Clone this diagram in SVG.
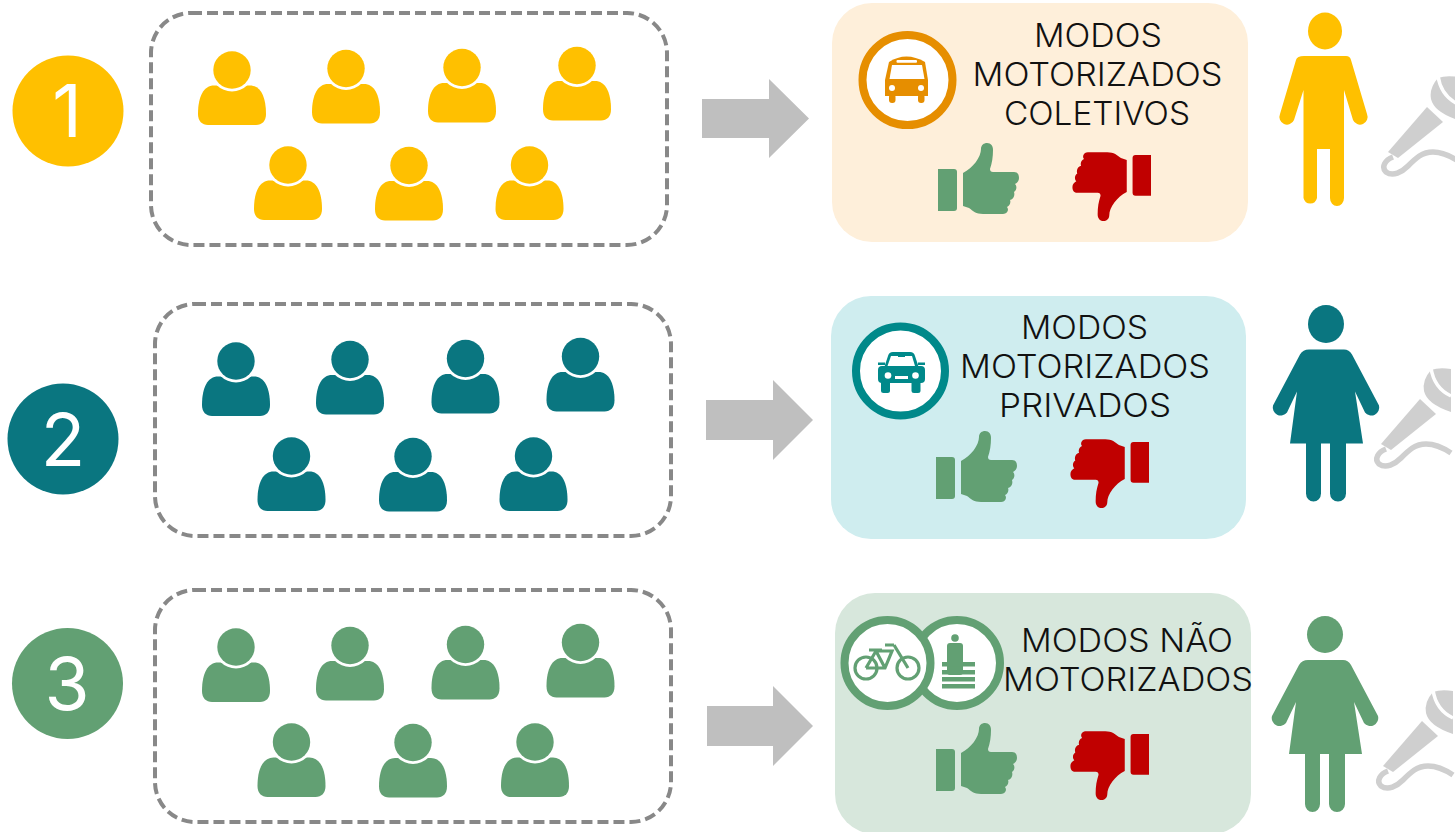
<svg xmlns="http://www.w3.org/2000/svg" width="1455" height="832" viewBox="0 0 1455 832">
<style>
.box{fill:#fff;stroke:#888;stroke-width:4;stroke-dasharray:11 5}
.arrow{fill:#BFBFBF}
.lbl{font-family:"Inter","Liberation Sans",sans-serif;font-weight:300;font-size:32px;fill:#111}
.num{font-family:"Inter","Liberation Sans",sans-serif;font-weight:400;font-size:73px;fill:#fff;text-anchor:middle}
.yel{fill:#FFC000}.teal{fill:#0A7680}.grn{fill:#62A073}.red{fill:#C00000}
.mic{fill:#CFCFCF}
</style>
<defs>
<g id="p"><path d="M-18 15.500C-28 15.500-34 26-34 44C-34 51-30 55-24 55L24 55C30 55 34 51 34 44C34 26 28 15.500 18 15.500Z"/><circle r="21.500" fill="#fff"/><circle r="18.700"/></g>
<g id="up"><path d="M0 26H16Q19 26 19 29V65Q19 68 16 68H0Z"/><path d="M25 30C35 25 43 14 43 6C43 2 46 0 49 0C53 0 55 3 55 7C55 14 54 20 52 26C52 28 53 29 55 29L76 29C80 29 81 32 81 35C81 38 79 40 77 41C79 43 79 47 76 49C77 52 76 56 72 57C73 59 72 63 69 64C71 66 70 71 65 71L45 71C38 71 35 68 31 65L25 63Z"/></g>
<g id="mic"><path class="mic" d="M1427 107L1443 122L1398 158L1388 152Z"/><path class="mic" d="M1438 78Q1429 88 1431 99Q1434 112 1458 120L1458 77Q1446 75 1438 78Z"/><path d="M1438 76Q1441 96 1458 104" fill="none" stroke="#fff" stroke-width="3.500"/><path d="M1393 157C1385 160 1381 167 1386 172C1393 177 1402 172 1408 166C1416 158 1422 152 1433 152C1442 152 1449 155 1458 161" fill="none" stroke="#CFCFCF" stroke-width="5.500"/></g>
<path id="woman" d="M1308 660L1343 660Q1348 660 1351 665L1378 716A8 8 0 0 1 1364 723L1354 702L1362 754L1345 754L1345 804A8 8 0 0 1 1329 804L1329 754L1320 754L1320 804A7.500 8 0 0 1 1305 804L1305 754L1289 754L1296 702L1286 723A8 8 0 0 1 1272 716L1299 665Q1302 660 1308 660Z"/>
</defs>

<g id="connectors">
<polygon class="arrow" points="702,99 769,99 769,79 809,118.500 769,158 769,138 702,138"/>
<polygon class="arrow" points="706,400 773,400 773,380 813,420 773,460 773,440 706,440"/>
<polygon class="arrow" points="707,706 773,706 773,686 813,726 773,766 773,746 707,746"/>
</g>

<g id="num1"><circle class="yel" cx="68" cy="111" r="55.500"/><text class="num" x="67" y="137">1</text></g>
<g id="num2"><circle class="teal" cx="63" cy="439" r="55.500"/><text class="num" x="63" y="466">2</text></g>
<g id="num3"><circle class="grn" cx="67.500" cy="683.500" r="55.500"/><text class="num" x="67" y="710">3</text></g>

<g id="group1">
<rect class="box" x="151" y="13" width="516" height="232" rx="40"/>
<g class="yel"><use href="#p" x="232" y="70"/><use href="#p" x="346" y="68.500"/><use href="#p" x="462" y="67.500"/><use href="#p" x="577" y="65.500"/><use href="#p" x="288" y="165"/><use href="#p" x="409" y="165.500"/><use href="#p" x="529.500" y="165"/></g>
</g>
<g id="group2">
<rect class="box" x="155" y="304" width="516" height="232" rx="40"/>
<g class="teal"><use href="#p" x="236" y="361"/><use href="#p" x="350" y="359.500"/><use href="#p" x="465.500" y="358.500"/><use href="#p" x="580.500" y="356.500"/><use href="#p" x="291.500" y="456"/><use href="#p" x="413" y="456.500"/><use href="#p" x="533.500" y="456"/></g>
</g>
<g id="group3">
<rect class="box" x="155" y="590" width="516" height="232" rx="40"/>
<g class="grn"><use href="#p" x="236" y="647"/><use href="#p" x="350" y="645.500"/><use href="#p" x="465.500" y="644.500"/><use href="#p" x="580.500" y="642.500"/><use href="#p" x="291.500" y="742"/><use href="#p" x="413" y="742.500"/><use href="#p" x="535" y="742"/></g>
</g>

<g id="panel1">
<rect x="832" y="3" width="416" height="239" rx="40" fill="#FEEFDA"/>
<circle cx="907.500" cy="80" r="45" fill="#fff" stroke="#E68E00" stroke-width="8"/>
<g fill="#E68E00"><path d="M889 62Q906 51 925 62L928 80V96H885V80Z"/><rect x="889" y="94" width="6.500" height="9" rx="3"/><rect x="918" y="94" width="6.500" height="9" rx="3"/></g>
<g fill="#fff"><path d="M892 65H922L924.500 79H889.500Z"/><rect x="896.500" y="60" width="20.500" height="2.800" rx="1"/><circle cx="892" cy="88" r="3"/><circle cx="921" cy="88" r="3"/></g>
<text class="lbl" x="1034" y="47" textLength="128" lengthAdjust="spacingAndGlyphs">MODOS</text>
<text class="lbl" x="972.500" y="86" textLength="250" lengthAdjust="spacingAndGlyphs">MOTORIZADOS</text>
<text class="lbl" x="1004" y="125" textLength="186" lengthAdjust="spacingAndGlyphs">COLETIVOS</text>
<use href="#up" class="grn" x="938" y="143"/>
<use href="#up" class="red" transform="translate(1151 221) rotate(180) scale(.97)"/>
</g>

<g id="panel2">
<rect x="831" y="296" width="415" height="243" rx="40" fill="#CFEDEF"/>
<circle cx="900.500" cy="371" r="44.500" fill="#fff" stroke="#00898A" stroke-width="8"/>
<g fill="#00898A"><path d="M884 368L888 356Q889 352 893 352H910Q914 352 915 356L919 368Z"/><rect x="878" y="362.500" width="7" height="2.500"/><rect x="918" y="362.500" width="7" height="2.500"/><rect x="878" y="366" width="47" height="17" rx="4"/><rect x="881" y="378" width="9" height="15" rx="2.500"/><rect x="911.500" y="378" width="9" height="15" rx="2.500"/></g>
<g fill="#fff"><path d="M891 356H912L915 366H887.500Z"/><circle cx="888" cy="375.500" r="3.300"/><circle cx="915.500" cy="375.500" r="3.300"/><rect x="895" y="376" width="13" height="3"/></g>
<g fill="#00898A"><rect x="898" y="355" width="7" height="2"/></g>
<text class="lbl" x="1021" y="339" textLength="127" lengthAdjust="spacingAndGlyphs">MODOS</text>
<text class="lbl" x="960" y="378" textLength="250" lengthAdjust="spacingAndGlyphs">MOTORIZADOS</text>
<text class="lbl" x="999" y="417" textLength="172" lengthAdjust="spacingAndGlyphs">PRIVADOS</text>
<use href="#up" class="grn" x="936" y="431"/>
<use href="#up" class="red" transform="translate(1149 508) rotate(180) scale(.97)"/>
</g>

<g id="panel3">
<rect x="835" y="593" width="416" height="241" rx="40" fill="#D7E7DC"/>
<circle cx="957" cy="663" r="43" fill="#fff" stroke="#62A073" stroke-width="8"/>
<g class="grn"><circle cx="955" cy="638" r="3.800"/><rect x="947" y="643" width="16" height="32" rx="3"/><rect x="942" y="662" width="33" height="4.500"/><rect x="942" y="670" width="33" height="4.500"/><rect x="942" y="677" width="33" height="4.500"/><rect x="942" y="684" width="33" height="4.500"/></g>
<circle cx="887.500" cy="663" r="43" fill="#fff" stroke="#62A073" stroke-width="8"/>
<g fill="none" stroke="#62A073" stroke-width="3.200"><circle cx="866" cy="668" r="11"/><circle cx="908" cy="668" r="11"/><path d="M866 668L876 651L892 651L885 668H866M876 651L885 668M908 668L894 645M885 645H894M869 650H882"/></g>
<text class="lbl" x="1021" y="652" textLength="212" lengthAdjust="spacingAndGlyphs">MODOS NÃO</text>
<text class="lbl" x="1003" y="691" textLength="250" lengthAdjust="spacingAndGlyphs">MOTORIZADOS</text>
<use href="#up" class="grn" x="936" y="723"/>
<use href="#up" class="red" transform="translate(1149 800) rotate(180) scale(.97)"/>
</g>

<g id="speaker1">
<ellipse class="yel" cx="1325" cy="31" rx="17" ry="18.500"/>
<path class="yel" d="M1304 56L1346 56Q1350 56 1351 60L1367 114A7.500 7.500 0 0 1 1353 120L1344 90L1344 198A6.500 7.500 0 0 1 1330 198L1330 149L1317 149L1317 198A7 7.500 0 0 1 1303.500 198L1303.500 90L1294 120A7.500 7.500 0 0 1 1280 114L1296 60Q1297 56 1304 56Z"/>
<use href="#mic"/>
</g>
<g id="speaker2">
<ellipse class="teal" cx="1326" cy="324" rx="18" ry="19"/>
<use href="#woman" class="teal" x="1" y="-310.500"/>
<use href="#mic" x="-7" y="292"/>
</g>
<g id="speaker3">
<ellipse class="grn" cx="1325" cy="634.500" rx="18" ry="18.500"/>
<use href="#woman" class="grn"/>
<use href="#mic" x="-5" y="614"/>
</g>
</svg>
